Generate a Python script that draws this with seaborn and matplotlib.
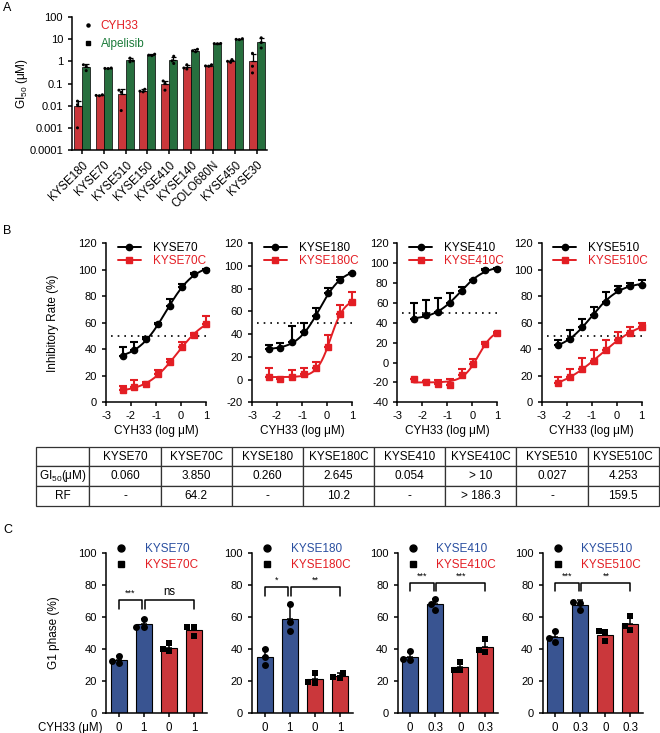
import numpy as np
import pandas as pd
import matplotlib
matplotlib.use("Agg")
import matplotlib.pyplot as plt
import seaborn as sns
from matplotlib.lines import Line2D
from matplotlib.ticker import NullLocator

RED = "#E31E24"
GREEN = "#1B7B3A"
BLUE = "#2A4FA0"

# ---- panel A: GI50 replicates (uM)
a_lines = ["KYSE180", "KYSE70", "KYSE510", "KYSE150", "KYSE410",
           "KYSE140", "COLO680N", "KYSE450", "KYSE30"]
a_cyh33 = [[0.016, 0.011, 0.001], [0.031, 0.029, 0.028], [0.05, 0.04, 0.006],
           [0.055, 0.045, 0.042], [0.13, 0.1, 0.05], [0.7, 0.5, 0.45],
           [0.7, 0.6, 0.62], [1.2, 1.0, 0.9], [2.3, 0.6, 0.3]]
a_alpel = [[0.7, 0.6, 0.38], [0.5, 0.48, 0.47], [1.4, 1.05, 0.95],
           [2.1, 1.9, 1.8], [1.7, 1.05, 0.8], [3.5, 3.0, 2.7],
           [6.4, 6.3, 6.2], [10.5, 9.8, 9.5], [11.5, 7.0, 4.0]]

# ---- panel B: dose response (mean, SD)
b_conc = [0.0046, 0.0137, 0.041, 0.123, 0.37, 1.11, 3.33, 10.0]
b_pairs = [("KYSE70", "KYSE70C"), ("KYSE180", "KYSE180C"),
           ("KYSE410", "KYSE410C"), ("KYSE510", "KYSE510C")]
b_par_mean = [[35, 39.5, 48, 59, 73, 87, 97, 99.8],
              [27, 27.5, 33.3, 41.6, 56, 76, 88, 93.5],
              [43.5, 47.9, 51.2, 60.2, 72.3, 83, 93.2, 94.2],
              [43.2, 47.8, 57, 65.9, 75.9, 84.8, 87.8, 88.5]]
b_par_sd = [[7, 6, 1, 0.5, 5, 2.5, 0.8, 0.5],
            [3.5, 4.5, 14, 8, 6.7, 4.3, 2.6, 0.5],
            [16.5, 15, 13.4, 9.5, 3.4, 0.5, 0.5, 0.5],
            [3.8, 6.8, 5.6, 5.8, 7.6, 3.2, 2.2, 3.5]]
b_res_mean = [[9.3, 11.3, 13.8, 21, 30.7, 42, 50.8, 59],
              [2.5, 0.5, 2.5, 5, 10, 29, 58, 68],
              [-16.9, -19.2, -21.6, -22.6, -12.5, -1.8, 18.4, 30],
              [14.8, 19.3, 24.9, 31.2, 39.5, 47, 52, 57]]
b_res_sd = [[3, 5.5, 1.7, 3.4, 2.3, 3.7, 1.2, 6.5],
            [7.5, 0.5, 6, 5, 5.7, 10, 7.3, 9],
            [0.5, 0.5, 4, 5.7, 5.7, 5.1, 2.3, 0.5],
            [4.5, 5.6, 8.3, 8, 7.5, 5.8, 4.8, 3]]
b_ylims = [(0, 120), (-20, 120), (-40, 120), (0, 120)]
HALF = 50

# ---- table
t_header = ["", "KYSE70", "KYSE70C", "KYSE180", "KYSE180C",
            "KYSE410", "KYSE410C", "KYSE510", "KYSE510C"]
t_gi50 = ["0.060", "3.850", "0.260", "2.645", "0.054", "> 10", "0.027", "4.253"]
t_rf = ["-", "64.2", "-", "10.2", "-", "> 186.3", "-", "159.5"]

# ---- panel C: G1 phase replicates (%)
c_doses = [["0", "1", "0", "1"], ["0", "1", "0", "1"],
           ["0", "0.3", "0", "0.3"], ["0", "0.3", "0", "0.3"]]
c_par_reps = [[[35.5, 31, 32.5], [59, 53.5, 54]],
              [[40, 35, 30], [68, 57, 51]],
              [[38.5, 33, 33.5], [71.5, 68, 64.5]],
              [[51.5, 44.5, 47], [69.5, 69, 64.5]]]
c_res_reps = [[[44, 38.5, 40], [48, 53.5, 54]],
              [[25, 19, 18.5], [25, 22.5, 21.5]],
              [[32, 26.5, 27], [46, 38, 39.5]],
              [[51, 50.5, 45], [60.5, 52, 54.5]]]
c_sig = [[(0, 1, "***"), (1, 3, "ns")], [(0, 1, "*"), (1, 3, "**")],
         [(0, 1, "***"), (1, 3, "***")], [(0, 1, "***"), (1, 3, "**")]]
c_sig_y = [70.5, 79, 81.6, 81.6]

sns.set_theme(style="ticks")
plt.rcParams["font.family"] = ["Liberation Sans", "DejaVu Sans"]
plt.rcParams.update({
    "mathtext.fontset": "custom",
    "mathtext.rm": "Liberation Sans",
    "mathtext.it": "Liberation Sans:italic",
    "axes.unicode_minus": False,
    "axes.linewidth": 1.1,
    "xtick.major.width": 1.1,
    "ytick.major.width": 1.1,
    "xtick.major.size": 3,
    "ytick.major.size": 3,
    "xtick.labelsize": 8,
    "ytick.labelsize": 8,
    "axes.labelsize": 8.5,
    "text.color": "black",
    "axes.labelcolor": "black",
    "xtick.color": "black",
    "ytick.color": "black",
    "axes.edgecolor": "black",
})

W, H = 660, 733


def box(x0, y0, x1, y1):
    return [x0 / W, 1 - y1 / H, (x1 - x0) / W, (y1 - y0) / H]


def fit_4pl(x, y):
    best = None
    for c in np.linspace(-4, 3, 141):
        for h in np.linspace(0.2, 3, 57):
            f = 1 / (1 + 10 ** ((c - x) * h))
            A = np.column_stack([1 - f, f])
            coef = np.linalg.lstsq(A, y, rcond=None)[0]
            sse = np.sum((A @ coef - y) ** 2)
            if best is None or sse < best[0]:
                best = (sse, c, h, coef)
    _, c, h, (bot, top) = best
    return lambda xx: bot + (top - bot) / (1 + 10 ** ((c - xx) * h))


fig = plt.figure(figsize=(W / 100, H / 100), dpi=100)

# ================= A =================
rows = []
for drug, reps in (("CYH33", a_cyh33), ("Alpelisib", a_alpel)):
    for ln, vals in zip(a_lines, reps):
        for v in vals:
            rows.append((ln, drug, v))
df_a = pd.DataFrame(rows, columns=["line", "drug", "gi50"])

ax = fig.add_axes(box(72, 17, 266.7, 150))
sns.barplot(data=df_a, x="line", y="gi50", hue="drug", order=a_lines,
            hue_order=["CYH33", "Alpelisib"], palette=[RED, GREEN],
            errorbar=None, width=0.73, edgecolor="black", linewidth=0.5,
            legend=False, ax=ax)
stats = df_a.groupby(["drug", "line"])["gi50"].agg(["mean", "std"])
for drug, off in (("CYH33", -0.1825), ("Alpelisib", 0.1825)):
    m = stats.loc[drug].reindex(a_lines)
    xs = np.arange(len(a_lines)) + off
    ax.errorbar(xs, m["mean"], yerr=[np.zeros(len(xs)), m["std"]], fmt="none",
                ecolor="black", elinewidth=0.9, capsize=1.8, capthick=0.9, zorder=3)
sns.swarmplot(data=df_a, x="line", y="gi50", hue="drug", order=a_lines,
              hue_order=["CYH33", "Alpelisib"], dodge=True,
              palette=["black", "black"], size=2.2, legend=False, ax=ax, zorder=4)
ax.set_yscale("log")
ax.set_ylim(1e-4, 100)
ax.set_xlim(-0.45, 8.45)
ax.set_yticks([1e-4, 1e-3, 1e-2, 0.1, 1, 10, 100])
ax.set_yticklabels(["0.0001", "0.001", "0.01", "0.1", "1", "10", "100"])
ax.yaxis.set_minor_locator(NullLocator())
ax.set_xticks(range(len(a_lines)))
ax.set_xticklabels(a_lines, rotation=45, ha="right", rotation_mode="anchor", fontsize=8.3)
ax.set_xlabel("")
ax.set_ylabel("GI$_{50}$ (μM)")
ax.yaxis.set_label_coords(-0.215, 0.5)
sns.despine(ax=ax)
hd = [Line2D([], [], ls="", marker="o", color="black", ms=2.2),
      Line2D([], [], ls="", marker="s", color="black", ms=2.2)]
leg = ax.legend(hd, ["CYH33", "Alpelisib"], loc="upper left",
                bbox_to_anchor=(0.02, 1.02), frameon=False, fontsize=8.5,
                handlelength=1, handletextpad=0.6, labelspacing=0.5, borderpad=0)
for t, c in zip(leg.get_texts(), [RED, GREEN]):
    t.set_color(c)

# ================= B =================
x_b = np.log10(b_conc)
b_left = [106, 252, 397.3, 541.5]
for i in range(4):
    ax = fig.add_axes(box(b_left[i], 243.3, b_left[i] + 100, 402.3))
    series = [(b_par_mean[i], b_par_sd[i], "black", "o"),
              (b_res_mean[i], b_res_sd[i], RED, "s")]
    for mean, sd, color, marker in series:
        y = np.array(mean, dtype=float)
        f = fit_4pl(x_b, y)
        xf = np.linspace(x_b[0], x_b[-1], 200)
        sns.lineplot(x=xf, y=f(xf), color=color, lw=1.4, ax=ax)
        ax.errorbar(x_b, y, yerr=[np.zeros(len(y)), sd], fmt=marker, color=color,
                    ms=4.5, elinewidth=1.5, capsize=3, capthick=1.5, clip_on=False)
    ax.plot([-2.8, 1.0], [HALF, HALF], color="black", lw=1.2, ls=(0, (1, 3)))
    ax.set_xlim(-3, 1)
    ax.set_ylim(*b_ylims[i])
    ax.set_xticks([-3, -2, -1, 0, 1])
    ax.set_yticks(np.arange(b_ylims[i][0], 121, 20))
    ax.set_xlabel("CYH33 (log μM)", labelpad=3)
    if i == 0:
        ax.set_ylabel("Inhibitory Rate (%)")
        ax.yaxis.set_label_coords(-0.47, 0.5)
    sns.despine(ax=ax)
    hd = [Line2D([], [], color="black", marker="o", lw=1.4, ms=4.5),
          Line2D([], [], color=RED, marker="s", lw=1.4, ms=4.5)]
    leg = ax.legend(hd, list(b_pairs[i]), loc="upper left",
                    bbox_to_anchor=(0.06, 1.045), frameon=False, fontsize=8.5,
                    handlelength=1.95, handletextpad=1.0, labelspacing=0.12,
                    borderpad=0)
    for t, c in zip(leg.get_texts(), ["black", RED]):
        t.set_color(c)

# ================= table =================
ax_t = fig.add_axes(box(35.7, 446.7, 658.8, 506))
ax_t.axis("off")
cells = [t_header, ["GI$_{50}$(μM)"] + t_gi50, ["RF"] + t_rf]
cw = [53.6] + [71.0] * 8
tbl = ax_t.table(cellText=cells, colWidths=[w / sum(cw) for w in cw],
                 cellLoc="center", bbox=[0, 0, 1, 1])
tbl.auto_set_font_size(False)
tbl.set_fontsize(8.5)
for cell in tbl.get_celld().values():
    cell.set_linewidth(0.9)
    cell.set_edgecolor("#333333")

# ================= C =================
c_left = [106, 252, 397.5, 542.5]
for i in range(4):
    par, res = b_pairs[i]
    grps = ["p0", "p1", "r0", "r1"]
    rows = []
    for g, reps in zip(grps, c_par_reps[i] + c_res_reps[i]):
        for v in reps:
            rows.append((g, par if g[0] == "p" else res, v))
    df_c = pd.DataFrame(rows, columns=["grp", "line", "g1"])

    ax = fig.add_axes(box(c_left[i], 553.3, c_left[i] + 100.5, 712.7))
    sns.barplot(data=df_c, x="grp", y="g1", hue="line", order=grps,
                hue_order=[par, res], palette=[BLUE, RED], dodge=False,
                errorbar=None, width=0.64, edgecolor="black", linewidth=0.8,
                legend=False, ax=ax)
    st = df_c.groupby("grp")["g1"].agg(["mean", "std"]).reindex(grps)
    ax.errorbar(np.arange(4), st["mean"], yerr=[np.zeros(4), st["std"]], fmt="none",
                ecolor="black", elinewidth=1.1, capsize=2.5, capthick=1.1, zorder=3)
    sns.swarmplot(data=df_c[df_c["line"] == par], x="grp", y="g1", order=grps,
                  color="black", marker="o", size=5, ax=ax, zorder=4)
    sns.swarmplot(data=df_c[df_c["line"] == res], x="grp", y="g1", order=grps,
                  color="black", marker="s", size=4.6, ax=ax, zorder=4)
    ax.set_xlim(-0.5, 3.5)
    ax.set_ylim(0, 100)
    ax.set_yticks(np.arange(0, 101, 20))
    ax.set_xticks(range(4))
    ax.set_xticklabels(c_doses[i], fontsize=8.3)
    ax.set_xlabel("")
    if i == 0:
        ax.set_ylabel("G1 phase (%)")
        ax.yaxis.set_label_coords(-0.46, 0.5)
    else:
        ax.set_ylabel("")
    sns.despine(ax=ax)

    y0 = c_sig_y[i]
    for a, b, lab in c_sig[i]:
        xa = a + (0.05 if a == 1 else 0)
        xb = b - (0.05 if b == 1 else 0)
        ax.plot([xa, xa, xb, xb], [y0 - 5.5, y0, y0, y0 - 5.5], color="black",
                lw=1.1, clip_on=False)
        ax.text((xa + xb) / 2, y0 + 1.5, lab, ha="center", va="bottom",
                fontsize=8.3 if lab == "ns" else 6.5)

    hd = [Line2D([], [], ls="", marker="o", color="black", ms=5),
          Line2D([], [], ls="", marker="s", color="black", ms=4.5)]
    leg = ax.legend(hd, [par, res], loc="upper left", bbox_to_anchor=(0.032, 1.1),
                    frameon=False, fontsize=8.5, handlelength=1,
                    handletextpad=1.5, labelspacing=0.35, borderpad=0)
    for t, c in zip(leg.get_texts(), [BLUE, RED]):
        t.set_color(c)

fig.text(103 / W, 1 - 727.7 / H, "CYH33 (μM)", ha="right", va="center", fontsize=8.3)

for lab, y in (("A", 8), ("B", 231), ("C", 530)):
    fig.text(3 / W, 1 - y / H, lab, ha="left", va="center", fontsize=9)

fig.savefig("out.png", dpi=100)
